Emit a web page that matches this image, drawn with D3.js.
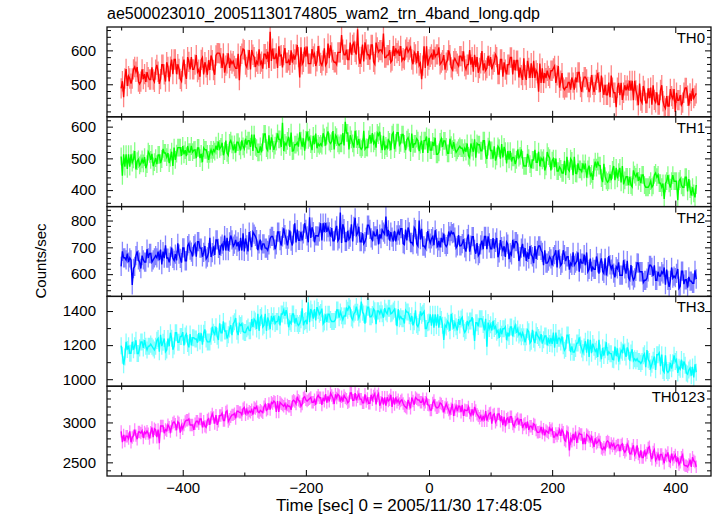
<!DOCTYPE html>
<html><head><meta charset="utf-8">
<script src="https://cdn.jsdelivr.net/npm/d3@7"></script>
<style>body{margin:0;background:#fff} text{font-family:"Liberation Sans",Arial,Helvetica,sans-serif}</style>
</head><body><svg id="c" width="717" height="516"></svg>
<script>
const title = "ae500023010_20051130174805_wam2_trn_4band_long.qdp";
const xLabel = "Time [sec] 0 = 2005/11/30 17:48:05";
const yLabel = "Counts/sec";
const bands = ["TH0","TH1","TH2","TH3","TH0123"];
const tStart = -500, binSec = 2;
const th0 = [488,509,462,517,545,495,524,517,502,517,544,551,537,551,508,501,508,544,515,530,
507,536,521,514,514,550,514,507,543,557,537,501,515,558,558,529,508,565,551,508,
552,573,530,573,573,530,559,545,516,509,552,573,530,516,580,566,544,580,544,544,
558,586,536,543,522,572,579,529,565,550,528,571,542,585,571,542,528,585,592,592,
591,577,548,591,534,555,562,591,548,570,561,568,554,547,547,590,512,583,590,604,
601,558,551,572,601,544,601,587,580,551,567,560,603,560,567,546,589,589,574,596,
548,655,569,605,576,576,591,548,612,584,586,550,586,607,564,564,571,557,600,564,
588,573,588,616,580,520,609,559,566,609,582,611,561,561,561,604,582,590,554,568,
613,584,563,556,570,606,556,563,620,577,615,594,572,565,565,558,594,594,594,645,
602,587,587,602,573,573,623,587,616,623,596,588,662,581,560,581,617,567,624,603,
587,587,573,616,616,566,559,623,609,595,601,601,594,650,579,579,586,586,601,565,
570,613,584,606,592,599,584,613,570,577,573,602,609,595,602,609,573,559,595,588,
562,598,555,562,515,555,612,548,612,555,573,581,588,573,602,581,588,588,609,559,
564,571,586,543,564,571,600,586,550,543,568,576,568,561,554,583,583,568,597,554,
544,558,558,601,558,580,537,587,551,580,534,548,562,598,541,562,541,548,584,555,
580,544,558,566,587,580,530,530,573,573,522,565,543,529,558,558,579,579,529,572,
541,570,570,520,549,527,513,577,527,513,569,548,519,562,519,569,519,541,533,478,
561,504,547,504,533,518,540,525,518,540,540,547,554,504,526,554,490,511,533,490,
484,491,491,505,505,484,520,505,484,520,506,535,535,492,478,506,521,521,514,492,
477,491,527,498,477,498,513,534,506,477,526,490,469,498,469,469,505,462,526,490,
475,475,432,490,504,468,504,454,475,497,482,496,482,510,482,510,453,510,482,467,
438,502,452,445,495,481,445,445,488,459,490,440,497,454,447,476,440,440,483,497,
450,436,429,465,436,436,486,465,457,486,418,475,453,453,468,439,446,475,489,489,
466,437,473,451,487,459,466,473];
const th1 = [506,445,513,474,513,467,513,474,513,487,497,523,465,491,497,478,484,497,484,504,
469,482,521,514,495,514,475,488,501,482,511,511,485,498,530,517,517,504,517,485,
502,521,476,534,495,515,534,534,534,508,539,513,526,507,539,520,520,539,520,526,
527,501,533,533,501,514,488,533,527,527,514,495,514,527,514,527,521,540,527,553,
530,536,549,510,523,556,517,510,549,556,544,525,544,518,551,551,538,525,557,538,
530,562,543,556,556,536,575,523,575,536,532,519,519,538,519,551,577,577,532,525,
573,527,566,547,527,540,553,579,560,560,536,612,523,549,542,555,568,536,581,523,
524,543,543,550,537,582,556,537,563,524,558,584,558,565,545,526,571,545,578,532,
546,540,546,540,579,566,540,572,585,553,547,554,586,528,573,567,547,541,547,547,
580,541,615,580,580,528,573,560,547,534,587,561,542,561,535,529,535,587,529,535,
534,560,573,547,580,547,554,534,580,573,584,545,526,571,526,539,532,558,552,526,
575,581,529,549,581,581,542,549,575,575,546,526,559,565,552,520,578,533,546,546,
562,556,523,543,556,517,556,556,569,517,565,526,526,552,539,565,513,513,519,552,
562,536,555,555,536,516,516,562,542,529,551,532,519,525,532,538,532,532,519,532,
521,547,508,502,547,534,521,560,502,547,543,543,524,524,556,556,511,498,537,556,
525,525,499,538,493,506,538,532,499,545,503,536,523,484,523,497,523,490,503,503,
482,495,528,502,508,528,495,476,476,476,514,501,482,469,495,495,527,488,488,521,
475,501,494,501,462,475,520,507,501,462,493,499,473,499,460,460,473,467,454,454,
492,447,505,466,460,499,492,447,505,453,452,484,465,465,458,484,465,484,439,465,
477,445,451,432,471,490,471,490,477,477,438,425,483,444,431,425,431,451,431,464,
476,431,470,437,457,470,424,476,418,431,442,442,416,442,416,410,462,449,442,455,
429,442,422,448,448,416,409,409,409,416,428,409,415,448,454,441,448,422,422,409,
421,372,421,428,447,421,408,428,447,428,428,428,368,428,435,415,409,409,441,441,
396,435,403,383,409,390,377,416];
const th2 = [629,685,661,661,653,677,645,661,653,560,621,629,669,685,653,645,621,669,653,645,
645,693,661,677,677,645,653,661,669,661,684,652,692,636,684,660,708,660,660,644,
667,699,659,651,675,651,715,675,659,643,698,698,650,650,706,714,690,682,666,706,
713,665,721,721,697,697,665,681,705,657,664,680,736,664,680,704,672,728,728,696,
672,704,712,688,744,688,736,688,720,744,728,704,712,728,704,720,688,736,688,752,
685,733,709,685,757,725,701,757,749,741,729,689,713,729,689,713,713,697,697,689,
709,733,741,741,725,693,709,757,757,725,707,739,771,747,731,707,731,763,723,707,
750,790,718,766,726,726,758,726,750,790,767,743,719,812,735,775,759,719,743,743,
742,758,790,726,790,758,790,758,774,758,740,772,724,724,764,780,724,732,830,716,
786,770,722,722,762,730,738,786,722,778,810,745,753,777,721,721,753,713,721,737,
783,783,767,735,727,759,743,743,767,711,749,733,765,757,749,815,741,765,725,757,
738,722,762,722,746,762,746,770,770,714,710,766,726,774,758,718,718,710,774,766,
713,705,800,729,769,705,705,697,721,761,732,716,732,740,708,764,732,700,724,700,
735,719,751,711,703,711,759,743,759,751,754,738,698,706,746,706,706,714,730,698,
684,732,748,684,708,740,740,692,676,716,669,677,709,725,693,741,741,693,741,717,
695,695,735,695,719,735,663,679,727,703,688,704,664,720,712,656,680,672,728,696,
721,721,713,649,665,697,713,665,697,649,681,657,705,673,665,641,705,657,689,705,
705,689,681,633,689,641,641,649,665,657,633,665,673,689,625,689,657,633,641,689,
673,649,665,665,617,641,633,681,633,641,649,681,609,657,641,641,673,633,681,609,
618,658,610,626,618,618,666,642,602,642,659,611,603,659,595,627,667,635,619,635,
604,588,628,620,644,596,596,596,652,620,602,650,586,578,634,594,578,586,610,642,
641,609,609,609,569,577,577,585,609,633,633,625,593,633,577,577,609,593,593,609,
601,625,561,617,577,553,577,625,585,593,587,603,619,547,555,611,611,563,579,579,
550,590,574,574,566,566,614,582];
const th3 = [1197,1141,1085,1130,1219,1174,1197,1152,1152,1219,1173,1196,1229,1151,1151,1184,1218,1218,1184,1229,
1194,1172,1194,1194,1206,1194,1183,1172,1194,1228,1239,1161,1261,1194,1217,1239,1161,1172,1239,1194,
1273,1240,1173,1195,1273,1273,1217,1217,1251,1251,1276,1198,1254,1265,1209,1187,1265,1198,1243,1243,
1236,1236,1214,1270,1225,1270,1203,1270,1292,1236,1219,1219,1219,1252,1308,1275,1263,1308,1252,1230,
1328,1272,1272,1339,1283,1283,1239,1261,1295,1317,1259,1326,1337,1359,1281,1259,1326,1315,1326,1281,
1274,1274,1296,1307,1285,1285,1352,1307,1352,1341,1295,1384,1284,1362,1373,1306,1317,1384,1284,1362,
1338,1294,1372,1338,1372,1327,1338,1338,1372,1316,1383,1383,1405,1372,1405,1372,1305,1338,1327,1383,
1383,1327,1360,1327,1316,1327,1349,1416,1316,1338,1345,1323,1452,1334,1412,1390,1356,1412,1345,1423,
1403,1381,1392,1414,1325,1336,1381,1336,1381,1381,1350,1339,1339,1339,1350,1406,1406,1361,1395,1372,
1349,1371,1371,1416,1405,1427,1416,1360,1349,1383,1393,1426,1393,1359,1382,1455,1393,1382,1326,1382,
1423,1423,1367,1367,1379,1412,1401,1323,1401,1401,1384,1406,1384,1361,1417,1395,1384,1417,1417,1384,
1389,1400,1411,1367,1311,1411,1355,1367,1355,1355,1327,1405,1394,1394,1372,1338,1372,1316,1338,1405,
1320,1309,1331,1398,1376,1387,1398,1298,1298,1331,1336,1381,1314,1381,1303,1381,1314,1381,1303,1370,
1351,1317,1230,1317,1306,1340,1328,1284,1384,1340,1297,1331,1308,1286,1353,1319,1353,1364,1297,1275,
1286,1342,1320,1342,1342,1364,1308,1225,1331,1331,1310,1354,1354,1354,1321,1287,1354,1190,1332,1298,
1320,1286,1342,1298,1309,1275,1286,1242,1298,1264,1296,1296,1307,1229,1273,1251,1307,1307,1251,1296,
1316,1272,1294,1260,1272,1249,1272,1249,1216,1249,1290,1279,1212,1223,1290,1234,1212,1279,1257,1245,
1231,1265,1209,1231,1254,1254,1198,1243,1209,1243,1207,1274,1185,1274,1207,1241,1241,1218,1252,1196,
1170,1181,1259,1259,1215,1159,1192,1159,1159,1181,1212,1212,1245,1201,1178,1156,1189,1223,1156,1234,
1131,1231,1153,1209,1187,1164,1175,1131,1231,1153,1117,1184,1139,1173,1217,1139,1161,1150,1150,1117,
1114,1192,1136,1181,1103,1136,1170,1159,1203,1159,1131,1187,1165,1109,1154,1176,1109,1120,1109,1120,
1104,1104,1093,1104,1138,1149,1071,1171,1115,1104,1066,1088,1111,1133,1055,1144,1144,1155,1077,1144,
1051,1040,1140,1051,1040,1051,1096,1062,1096,1140,1104,1115,1037,1070,1059,1115,1059,1104,1082,1037,
1030,1054,1066,1021,1072,1010,1088,1041];
const th0123 = [2888,2752,2843,2767,2828,2828,2797,2888,2752,2812,2835,2911,2835,2790,2881,2881,2866,2896,2805,2881,
2860,2891,2860,2800,2876,2936,2815,2921,2906,2815,2911,2740,2956,2956,2956,2865,2911,2895,2971,2941,
2887,2948,2993,3008,2978,2902,3008,2993,2872,2963,2922,2967,3013,3028,3028,3043,2967,2967,2967,2907,
2983,3014,3014,2983,3044,3044,2938,3014,2953,2938,3030,3046,2970,3061,3106,3061,2985,3091,2970,3015,
3086,3086,3116,3025,3025,3131,3146,3010,3040,3070,3095,3095,3110,3050,3141,3141,3126,3126,3095,3171,
3188,3097,3158,3112,3142,3127,3158,3097,3188,3173,3198,3137,3122,3152,3137,3122,3198,3228,3152,3167,
3237,3161,3252,3237,3267,3252,3131,3267,3131,3252,3234,3218,3203,3234,3173,3218,3203,3203,3158,3264,
3278,3263,3232,3323,3278,3263,3202,3232,3308,3323,3283,3267,3283,3298,3313,3252,3252,3283,3222,3313,
3340,3310,3310,3219,3310,3264,3355,3249,3325,3264,3367,3337,3307,3231,3352,3307,3352,3337,3261,3322,
3262,3338,3308,3292,3247,3262,3368,3368,3277,3277,3368,3277,3323,3353,3292,3292,3247,3247,3353,3262,
3301,3240,3240,3346,3285,3331,3361,3225,3331,3361,3209,3254,3315,3224,3315,3209,3315,3269,3285,3345,
3193,3314,3223,3314,3253,3284,3238,3269,3284,3238,3207,3192,3177,3283,3237,3177,3313,3268,3222,3313,
3297,3282,3282,3252,3252,3297,3221,3252,3297,3221,3215,3154,3154,3245,3275,3215,3184,3184,3199,3245,
3232,3202,3126,3187,3232,3187,3156,3111,3171,3232,3083,3159,3204,3143,3204,3204,3128,3219,3083,3159,
3149,3149,3194,3118,3088,3164,3088,3194,3149,3103,3082,3052,3082,3022,3082,3022,3143,3022,3082,3113,
3122,2986,3092,3107,3001,3031,3107,3107,3016,3077,2965,3071,2950,3041,3056,2995,3071,3071,2980,2950,
3005,3035,3050,2974,3035,3035,2929,2974,2990,2929,3012,2906,2952,2952,2921,2982,2967,2906,2876,2876,
2883,2944,2868,2914,2838,2898,2883,2868,2929,2898,2922,2816,2816,2861,2831,2861,2907,2831,2907,2877,
2780,2765,2886,2871,2650,2795,2765,2856,2780,2886,2744,2820,2865,2850,2850,2729,2805,2729,2850,2835,
2816,2771,2816,2755,2695,2801,2740,2755,2786,2755,2676,2661,2691,2661,2752,2767,2752,2676,2737,2706,
2732,2671,2702,2717,2717,2641,2717,2732,2656,2626,2652,2728,2698,2607,2607,2668,2713,2592,2622,2713,
2604,2559,2650,2559,2559,2650,2589,2619,2680,2695,2584,2539,2630,2660,2524,2554,2600,2524,2600,2600,
2549,2489,2595,2580,2625,2519,2504,2610,2534,2565,2593,2502,2563,2472,2502,2563,2593,2472,2457,2457,
2444,2474,2535,2444,2565,2520,2505,2444];
const errors = [30,28,36,50,78];
const yDomains = [[404,669],[348,631],[517,852],[959,1486],[2329,3454]];
const majorTicks = [[500,600],[400,500,600],[600,700,800],[1000,1200,1400],[2500,3000]];
const minorStep = [20,20,20,100,100];
const xMajor = [-400,-200,0,200,400];
const xMinor = [-500,-300,-100,100,300];
const colors = ["#ff0000","#00ff00","#0000ff","#00ffff","#ff00ff"];

const series = [th0,th1,th2,th3,th0123];
const svg = d3.select("#c");
const L = 107, R = 711, T = 27, B = 476, n = series.length, ph = (B - T) / n;
const x = d3.scaleLinear().domain([-523, 458]).range([L, R]);
const FS = 15;

function styleAxis(g){
  g.select(".domain").remove();
  g.selectAll(".tick line").attr("stroke","#000").attr("stroke-width",1);
  g.selectAll("text").attr("font-size",FS).attr("fill","#000").attr("font-family",'"Liberation Sans",Arial,sans-serif');
}

series.forEach((vals, k) => {
  const top = T + k * ph, bot = top + ph;
  const y = d3.scaleLinear().domain(yDomains[k]).range([bot, top]);
  const data = vals.map((v, i) => ({t: tStart + i * binSec, v, e: errors[k]}));
  svg.append("clipPath").attr("id", "clip" + k).append("rect")
    .attr("x", L).attr("y", top).attr("width", R - L).attr("height", ph);
  const dg = svg.append("g").attr("clip-path", `url(#clip${k})`);
  dg.selectAll("line.err").data(data).join("line").attr("class","err")
    .attr("x1", d => x(d.t)).attr("x2", d => x(d.t))
    .attr("y1", d => y(d.v - d.e)).attr("y2", d => y(d.v + d.e))
    .attr("stroke", colors[k]).attr("stroke-opacity", 0.48).attr("stroke-width", 1.3);
  dg.append("path").datum(data)
    .attr("d", d3.line().x(d => x(d.t)).y(d => y(d.v)))
    .attr("fill","none").attr("stroke", colors[k]).attr("stroke-width", 1.4);

  const minor = d3.range(Math.ceil(yDomains[k][0] / minorStep[k]) * minorStep[k], yDomains[k][1], minorStep[k])
    .filter(v => !majorTicks[k].includes(v));
  styleAxis(svg.append("g").attr("transform", `translate(${L},0)`)
    .call(d3.axisLeft(y).tickValues(majorTicks[k]).tickSizeInner(-6).tickSizeOuter(0).tickPadding(11).tickFormat(d3.format("d"))));
  styleAxis(svg.append("g").attr("transform", `translate(${L},0)`)
    .call(d3.axisLeft(y).tickValues(minor).tickSizeInner(-4).tickSizeOuter(0).tickFormat("")));
  styleAxis(svg.append("g").attr("transform", `translate(${R},0)`)
    .call(d3.axisRight(y).tickValues(majorTicks[k]).tickSizeInner(-6).tickSizeOuter(0).tickFormat("")));
  styleAxis(svg.append("g").attr("transform", `translate(${R},0)`)
    .call(d3.axisRight(y).tickValues(minor).tickSizeInner(-4).tickSizeOuter(0).tickFormat("")));
  styleAxis(svg.append("g").attr("transform", `translate(0,${top})`)
    .call(d3.axisTop(x).tickValues(xMajor).tickSizeInner(-6).tickSizeOuter(0).tickFormat("")));
  styleAxis(svg.append("g").attr("transform", `translate(0,${top})`)
    .call(d3.axisTop(x).tickValues(xMinor).tickSizeInner(-3.5).tickSizeOuter(0).tickFormat("")));
  const last = k === n - 1;
  styleAxis(svg.append("g").attr("transform", `translate(0,${bot})`)
    .call(d3.axisBottom(x).tickValues(xMajor).tickSizeInner(-6).tickSizeOuter(0).tickPadding(6)
      .tickFormat(last ? (d => d < 0 ? "\u2212" + Math.abs(d) : String(d)) : "")));
  styleAxis(svg.append("g").attr("transform", `translate(0,${bot})`)
    .call(d3.axisBottom(x).tickValues(xMinor).tickSizeInner(-3.5).tickSizeOuter(0).tickFormat("")));

  svg.append("rect").attr("x", L).attr("y", top).attr("width", R - L).attr("height", ph)
    .attr("fill","none").attr("stroke","#111").attr("stroke-width",1.3);
  svg.append("text").attr("x", 705).attr("y", top + 16).attr("text-anchor","end")
    .attr("font-size", FS).attr("fill","#000").text(bands[k]);
});

svg.append("text").attr("x", L).attr("y", 19).attr("font-size", 16).attr("fill","#000").text(title);
svg.append("text").attr("x", (L + R) / 2).attr("y", 511).attr("text-anchor","middle")
  .attr("font-size", 17).attr("fill","#000").text(xLabel);
svg.append("text").attr("transform", "translate(46,261) rotate(-90)").attr("text-anchor","middle")
  .attr("font-size", FS).attr("fill","#000").text(yLabel);
</script></body></html>
